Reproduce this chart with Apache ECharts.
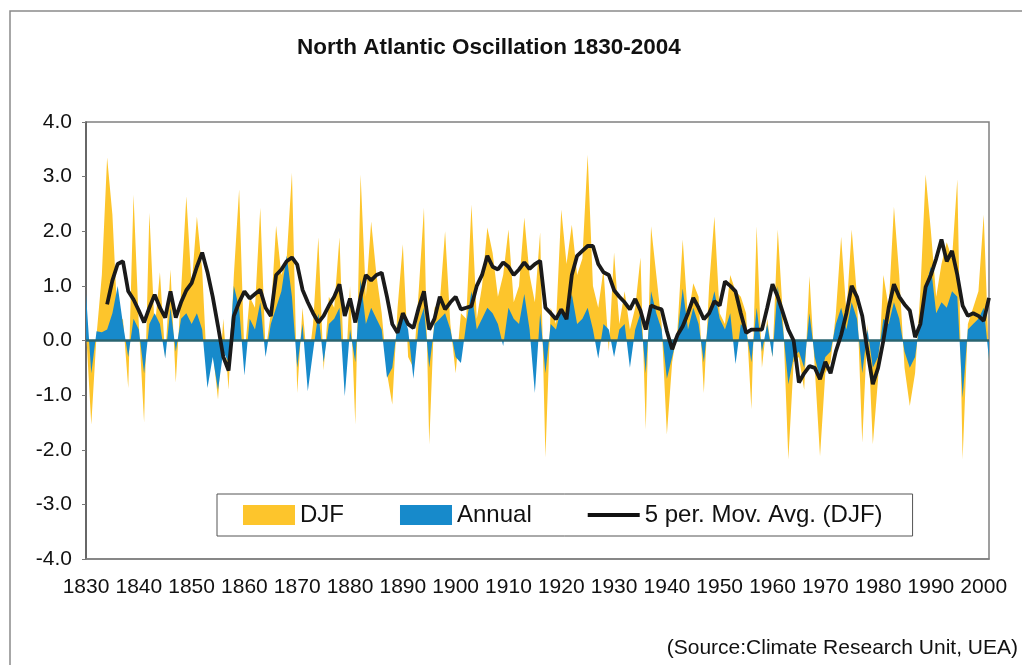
<!DOCTYPE html>
<html>
<head>
<meta charset="utf-8">
<script src="https://cdn.jsdelivr.net/npm/echarts@6/dist/echarts.min.js"></script>
<style>
html,body{margin:0;padding:0;background:#fff;}
#chart{width:1022px;height:665px;}
</style>
</head>
<body>
<div id="chart"></div>
<script>
// Years 1830-2001
var years = [];
for (var y = 1830; y <= 2001; y++) years.push(String(y));

// DJF NAO index (winter)
var djf = [
 0.2,-1.54,0.1,1.2,3.35,2.3,0.3,0.4,-0.87,2.67,
 0.3,-1.5,2.34,0.2,1.25,-0.3,1.3,-0.77,0.9,2.64,
 1.0,2.27,1.3,-0.7,-0.2,-1.08,0.4,-0.9,1.2,2.77,
 -0.3,0.8,0.6,2.43,-0.2,0.5,2.1,1.2,1.5,3.07,
 -0.96,0.6,-0.5,0.3,1.89,-0.55,0.8,0.6,1.89,-0.9,
 1.0,-1.54,3.04,0.8,2.18,1.2,0.5,-0.6,-1.17,0.6,
 1.76,-0.3,-0.5,0.9,2.43,-1.9,0.6,0.7,2.0,0.3,
 -0.6,0.5,0.4,2.49,0.4,1.0,2.07,1.6,0.8,1.2,
 2.03,0.7,1.0,2.25,1.2,0.7,1.98,-2.14,0.6,0.3,
 2.4,1.4,2.12,1.2,1.5,3.4,1.0,0.6,1.3,-0.2,
 1.61,0.3,0.9,0.2,0.6,1.52,-1.63,2.09,1.2,0.3,
 -1.72,-0.4,0.2,1.85,0.4,1.05,0.8,-0.96,1.0,2.27,
 0.5,0.3,1.2,0.9,0.8,0.5,-1.26,2.09,-0.5,0.4,
 -0.3,2.03,0.4,-2.18,-0.4,-0.3,-0.9,1.18,-0.5,-2.12,
 -0.6,-0.4,0.5,1.9,0.5,2.03,0.8,-1.87,0.3,-1.9,
 -0.7,1.2,0.6,2.45,1.2,-0.5,-1.2,-0.6,0.9,3.04,
 2.0,0.8,1.4,1.8,1.5,2.95,-2.18,0.3,0.6,0.9,
 2.3,-0.4
];

// Annual NAO index
var annual = [
 0.85,-0.6,0.17,0.15,0.2,0.5,1.0,0.3,-0.3,0.4,
 0.2,-0.6,0.3,0.5,0.3,-0.33,0.6,-0.2,0.4,0.5,
 0.3,0.5,0.2,-0.87,-0.3,-0.9,-0.2,-0.4,1.0,0.6,
 -0.64,0.4,0.2,0.7,-0.3,0.3,0.6,0.9,1.55,0.8,
 -0.5,0.3,-0.93,-0.2,0.5,-0.4,0.3,0.4,0.6,-1.02,
 0.2,-0.4,1.12,0.3,0.6,0.4,0.2,-0.68,-0.5,0.3,
 0.5,0.2,-0.7,0.3,0.6,-0.5,0.3,0.4,0.5,0.2,
 -0.3,-0.41,0.3,0.9,0.2,0.4,0.6,0.5,0.3,-0.1,
 0.6,0.4,0.3,0.85,0.2,-0.96,0.5,-0.6,0.3,0.2,
 0.6,0.4,0.85,0.3,0.4,0.6,0.2,-0.33,0.3,0.2,
 -0.3,0.2,0.3,-0.5,0.2,0.5,-0.6,0.9,0.5,0.2,
 -0.7,-0.3,0.1,0.95,0.2,0.6,0.3,-0.4,0.5,0.9,
 0.4,0.2,0.5,-0.43,0.3,0.2,-0.4,0.6,-0.2,0.3,
 -0.3,1.0,0.2,-0.8,-0.3,-0.2,-0.5,0.5,-0.3,-0.7,
 -0.3,-0.2,0.3,0.6,0.2,0.7,0.4,-0.6,0.2,-0.5,
 -0.3,0.4,0.3,0.7,0.4,-0.2,-0.5,-0.3,0.4,1.0,
 1.35,0.5,0.7,0.6,0.9,0.8,-1.05,0.2,0.3,0.4,
 0.6,-0.35
];

// 5 period moving average of DJF
var movAvg = [
 null,null,null,null,0.66,1.1,1.4,1.45,0.9,0.75,
 0.55,0.33,0.6,0.84,0.6,0.42,0.9,0.42,0.7,0.92,
 1.05,1.35,1.61,1.25,0.8,0.26,-0.3,-0.55,0.45,0.7,
 0.9,0.77,0.85,0.93,0.6,0.45,1.2,1.3,1.45,1.52,
 1.39,0.93,0.7,0.5,0.33,0.45,0.64,0.8,1.03,0.45,
 0.77,0.33,0.8,1.2,1.1,1.2,1.24,0.8,0.3,0.14,
 0.5,0.3,0.23,0.6,0.9,0.2,0.4,0.8,0.57,0.7,
 0.8,0.57,0.6,0.63,1.0,1.2,1.55,1.35,1.3,1.43,
 1.35,1.2,1.3,1.43,1.31,1.4,1.46,0.6,0.5,0.39,
 0.57,0.39,1.2,1.55,1.64,1.73,1.73,1.4,1.25,1.2,
 0.92,0.8,0.7,0.57,0.76,0.55,0.2,0.64,0.6,0.57,
 0.17,-0.16,0.1,0.26,0.5,0.78,0.6,0.39,0.5,0.72,
 0.64,1.08,1.0,0.9,0.5,0.14,0.2,0.2,0.2,0.6,
 1.03,0.8,0.5,0.2,0.0,-0.77,-0.6,-0.47,-0.5,-0.71,
 -0.39,-0.6,-0.2,0.1,0.5,1.0,0.8,0.45,-0.2,-0.8,
 -0.5,0.0,0.6,1.03,0.8,0.66,0.55,0.06,0.3,0.98,
 1.2,1.5,1.85,1.45,1.64,1.2,0.64,0.45,0.5,0.45,
 0.36,0.78
];

var yTicks = [-4, -3, -2, -1, 0, 1, 2, 3, 4];

var FONT = '"Liberation Sans", Arial, Helvetica, sans-serif';
var chart = echarts.init(document.getElementById('chart'), null, {renderer: 'canvas'});

chart.setOption({
  backgroundColor: '#ffffff',
  animation: false,
  title: {
    text: 'North Atlantic Oscillation 1830-2004',
    left: 297, top: 36, padding: 0,
    textStyle: {fontFamily: FONT, fontSize: 22.5, fontWeight: 'bold', color: '#111'}
  },
  legend: {
    left: 217, top: 494,
    itemWidth: 52, itemHeight: 20, itemGap: 56,
    padding: [9, 30, 9, 26],
    borderColor: '#555', borderWidth: 1, backgroundColor: '#fff',
    textStyle: {fontFamily: FONT, fontSize: 24, color: '#111'},
    data: [
      {name: 'DJF', icon: 'rect'},
      {name: 'Annual', icon: 'rect'},
      {name: '5 per. Mov. Avg. (DJF)', icon: 'path://M0,0H52V4H0Z',
       itemStyle: {color: '#111'}}
    ]
  },
  grid: {
    left: 86, top: 122, right: 33, bottom: 106,
    show: true, borderColor: '#808080', borderWidth: 1.5, backgroundColor: '#fff'
  },
  xAxis: {
    type: 'category', data: years, boundaryGap: false,
    axisLine: {onZero: false, lineStyle: {color: '#808080', width: 1.5}},
    axisTick: {show: false},
    axisLabel: {
      interval: function (i, v) { return (+v) % 10 === 0; },
      fontFamily: FONT, fontSize: 21, color: '#111', margin: 18
    },
    splitLine: {show: false}
  },
  yAxis: {
    type: 'value', min: yTicks[0], max: yTicks[yTicks.length - 1], interval: 1,
    axisLine: {show: true, lineStyle: {color: '#555', width: 1.5}},
    axisTick: {show: true, length: 4, lineStyle: {color: '#777'}},
    axisLabel: {
      formatter: function (v) { return v.toFixed(1); },
      fontFamily: FONT, fontSize: 21, color: '#111', margin: 14
    },
    splitLine: {show: false}
  },
  series: [
    {
      name: 'DJF', type: 'line', data: djf, symbol: 'none',
      color: '#FDC52C',
      lineStyle: {width: 0},
      areaStyle: {color: '#FDC52C', opacity: 1},
      z: 2
    },
    {
      name: 'Annual', type: 'line', data: annual, symbol: 'none',
      color: '#178ACB',
      lineStyle: {width: 0},
      areaStyle: {color: '#178ACB', opacity: 1},
      z: 3,
      markLine: {
        silent: true, symbol: 'none', label: {show: false},
        lineStyle: {color: '#2a6470', width: 2.5, type: 'solid'},
        data: [{yAxis: 0}]
      }
    },
    {
      name: '5 per. Mov. Avg. (DJF)', type: 'line', data: movAvg,
      symbol: 'none', showSymbol: false,
      color: '#1a1a1a',
      lineStyle: {color: '#1a1a1a', width: 3.8},
      connectNulls: false,
      z: 5
    }
  ],
  graphic: [
    {
      type: 'polyline', silent: true,
      shape: {points: [[10, 665], [10, 11], [1022, 11]]},
      style: {stroke: '#8a8a8a', lineWidth: 1.5, fill: null}
    },
    {
      type: 'text', silent: true,
      style: {
        x: 1018, y: 648, text: '(Source:Climate Research Unit, UEA)',
        textAlign: 'right', textVerticalAlign: 'middle',
        font: '21px "Liberation Sans", Arial, sans-serif', fill: '#111'
      }
    }
  ]
});
</script>
</body>
</html>
